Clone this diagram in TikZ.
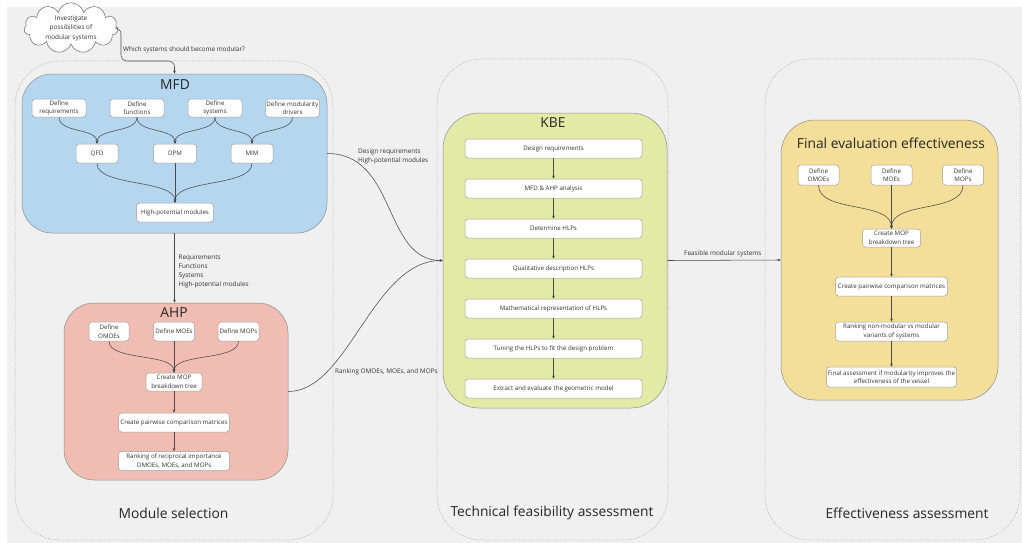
\documentclass[tikz,border=0pt]{standalone}
\usepackage{fontspec}
\setmainfont{Open Sans}
\usetikzlibrary{shapes.symbols,arrows.meta}

\definecolor{bg}{HTML}{F0F0F0}
\definecolor{mfdblue}{HTML}{B5D6EF}
\definecolor{ahppink}{HTML}{F1BDB2}
\definecolor{kbegreen}{HTML}{E2EBA6}
\definecolor{evalyellow}{HTML}{F3DF99}
\definecolor{edge}{HTML}{4A4A4A}
\definecolor{frame}{HTML}{9C9C9C}
\definecolor{groupline}{HTML}{8C8C8C}
\definecolor{ink}{HTML}{333333}

\tikzset{
  phase/.style={draw=frame, line width=0.5pt, dash pattern=on 0.6pt off 1.1pt,
    rounded corners=45pt, inner sep=0pt},
  group/.style={draw=groupline, line width=0.5pt, inner sep=0pt},
  task/.style={draw=gray!75, fill=white, rounded corners=3pt, line width=0.5pt,
    inner sep=1pt, align=center, font=\fontsize{6.2}{8.6}\selectfont, text=ink},
  flow/.style={draw=edge, line width=0.55pt, -{Stealth[length=3.2pt,width=2.8pt]}},
  lbl/.style={font=\fontsize{6.4}{9}\selectfont, text=ink, align=left, inner sep=0pt},
  heading/.style={font=\fontsize{13.8}{17}\selectfont, text=black!85, inner sep=0pt},
}

\begin{document}
\begin{tikzpicture}[x=1pt,y=-1pt]
\useasboundingbox (0,0) rectangle (1022,543);
\fill[bg] (7,7) rectangle (1022,543);

% three phases
\node[phase, minimum width=318pt, minimum height=479pt] (selection) at (174,300.5) {};
\node[phase, minimum width=231pt, minimum height=481pt] (feasibility) at (552.5,299.5) {};
\node[phase, minimum width=255pt, minimum height=481pt] (effectiveness) at (892.5,299.5) {};

\node[heading] (selT) at (173.5,513) {Module selection};
\node[heading] (feaT) at (552,513) {Technical feasibility assessment};
\node[heading] (effT) at (907,513) {Effectiveness assessment};

% method groups
\node[group, fill=mfdblue, rounded corners=30pt, minimum width=305pt, minimum height=159pt] (mfd) at (174.5,153.5) {};
\node[group, fill=ahppink, rounded corners=30pt, minimum width=224pt, minimum height=177pt] (ahp) at (176,391.5) {};
\node[group, fill=kbegreen, rounded corners=36pt, minimum width=224pt, minimum height=295pt] (kbe) at (555,260.5) {};
\node[group, fill=evalyellow, rounded corners=34pt, minimum width=217pt, minimum height=280pt] (final) at (889.5,260) {};

\node[heading] (mfdT) at (175,85) {MFD};
\node[heading] (ahpT) at (174,313) {AHP};
\node[heading] (kbeT) at (553,123) {KBE};
\node[heading] (finalT) at (891,143) {Final evaluation effectiveness};

% cloud
\node[cloud, draw=gray!80!black, fill=white, line width=0.5pt, cloud puffs=11, aspect=2.1,
  minimum width=94pt, minimum height=48pt, inner sep=0pt, align=center,
  font=\fontsize{6.4}{9.5}\selectfont, text=ink] (cloud) at (71,28)
  {Investigate\\possibilities of\\modular systems};
\coordinate (cturn) at (121,61);
\draw[flow, rounded corners=6pt] (cloud.east) -| (cturn) -| (mfd.north);
\node[lbl, anchor=west] (qlbl) at (123,50) {Which systems should become modular?};

% MFD
\node[task, minimum width=54pt, minimum height=18pt] (dreq) at (59,108) {Define\\requirements};
\node[task, minimum width=54pt, minimum height=18pt] (dfun) at (137,108) {Define\\functions};
\node[task, minimum width=54pt, minimum height=18pt] (dsys) at (215,108) {Define\\systems};
\node[task, minimum width=54pt, minimum height=18pt] (ddrv) at (292.5,108) {Define modularity\\drivers};
\node[task, minimum width=42pt, minimum height=19pt] (qfd) at (97,153.5) {QFD};
\node[task, minimum width=43pt, minimum height=19pt] (dpm) at (175,153.5) {DPM};
\node[task, minimum width=42pt, minimum height=19pt] (mim) at (252,153.5) {MIM};
\node[task, minimum width=77pt, minimum height=19pt] (hpm) at (175,212.5) {High-potential modules};

\draw[flow] (dreq.south) .. controls +(0,16) and +(0,-16) .. (qfd.north);
\draw[flow] (dfun.south) .. controls +(0,16) and +(0,-16) .. (qfd.north);
\draw[flow] (dfun.south) .. controls +(0,16) and +(0,-16) .. (dpm.north);
\draw[flow] (dsys.south) .. controls +(0,16) and +(0,-16) .. (dpm.north);
\draw[flow] (dsys.south) .. controls +(0,16) and +(0,-16) .. (mim.north);
\draw[flow] (ddrv.south) .. controls +(0,16) and +(0,-16) .. (mim.north);
\draw[flow] (qfd.south) .. controls +(0,24) and +(0,-24) .. (hpm.north);
\draw[flow] (dpm.south) -- (hpm.north);
\draw[flow] (mim.south) .. controls +(0,24) and +(0,-24) .. (hpm.north);

% MFD to AHP
\draw[flow] (mfd.south) -- (ahp.north -| mfd.south);
\node[lbl, anchor=north west] (mfdout) at (178.5,255)
  {Requirements\\Functions\\Systems\\High-potential modules};

% AHP
\node[task, minimum width=40pt, minimum height=19pt] (aomoe) at (109,331.5) {Define\\OMOEs};
\node[task, minimum width=41pt, minimum height=19pt] (amoe) at (174,331.5) {Define MOEs};
\node[task, minimum width=41pt, minimum height=19pt] (amop) at (238.5,331.5) {Define MOPs};
\node[task, minimum width=56pt, minimum height=18pt] (atree) at (174,382) {Create MOP\\breakdown tree};
\node[task, minimum width=111pt, minimum height=19pt] (apair) at (174,422.5) {Create pairwise comparison matrices};
\node[task, minimum width=111pt, minimum height=19pt] (arank) at (174,461) {Ranking of reciprocal importance\\OMOEs, MOEs, and MOPs};

\draw[flow] (aomoe.south) .. controls +(0,20) and +(0,-20) .. (atree.north);
\draw[flow] (amoe.south) -- (atree.north);
\draw[flow] (amop.south) .. controls +(0,20) and +(0,-20) .. (atree.north);
\draw[flow] (atree.south) -- (apair.north);
\draw[flow] (apair.south) -- (arank.north);

% into KBE
\draw[flow] (mfd.east) .. controls +(70,0) and +(-60,0) .. (kbe.west);
\draw[flow] (ahp.east) .. controls +(60,0) and +(-70,0) .. (kbe.west);
\node[lbl, anchor=north west] (kbein) at (358,149) {Design requirements\\High-potential modules};
\node[lbl, anchor=west] (rankin) at (335,372) {Ranking OMOEs, MOEs, and MOPs};

% KBE
\node[task, minimum width=177pt, minimum height=19pt] (k1) at (553.5,148.5) {Design requirements};
\node[task, minimum width=177pt, minimum height=19pt] (k2) at (553.5,188.5) {MFD \& AHP analysis};
\node[task, minimum width=177pt, minimum height=19pt] (k3) at (553.5,228.5) {Determine HLPs};
\node[task, minimum width=177pt, minimum height=19pt] (k4) at (553.5,268.5) {Qualitative description HLPs};
\node[task, minimum width=177pt, minimum height=19pt] (k5) at (553.5,308.5) {Mathematical representation of HLPs};
\node[task, minimum width=177pt, minimum height=19pt] (k6) at (553.5,348.5) {Tuning the HLPs to fit the design problem};
\node[task, minimum width=177pt, minimum height=19pt] (k7) at (553.5,388.5) {Extract and evaluate the geometric model};
\foreach \a/\b in {k1/k2,k2/k3,k3/k4,k4/k5,k5/k6,k6/k7}
  \draw[flow] (\a.south) -- (\b.north);

% KBE to final evaluation
\draw[flow] (kbe.east) -- (final.west);
\node[lbl, anchor=west] (feas) at (684,254) {Feasible modular systems};

% Final evaluation
\node[task, minimum width=41pt, minimum height=20pt] (fomoe) at (818.5,175) {Define\\OMOEs};
\node[task, minimum width=41pt, minimum height=20pt] (fmoe) at (891.5,175) {Define\\MOEs};
\node[task, minimum width=41pt, minimum height=20pt] (fmop) at (963,175) {Define\\MOPs};
\node[task, minimum width=58pt, minimum height=18pt] (ftree) at (891.5,238) {Create MOP\\breakdown tree};
\node[task, minimum width=112pt, minimum height=19pt] (fpair) at (891.5,286.5) {Create pairwise comparison matrices};
\node[task, minimum width=112pt, minimum height=19pt] (frank) at (891.5,331.5) {Ranking non-modular vs modular\\variants of systems};
\node[task, minimum width=130pt, minimum height=20pt] (fass) at (891.5,377) {Final assessment if modularity improves the\\effectiveness of the vessel};

\draw[flow] (fomoe.south) .. controls +(0,28) and +(0,-28) .. (ftree.north);
\draw[flow] (fmoe.south) -- (ftree.north);
\draw[flow] (fmop.south) .. controls +(0,28) and +(0,-28) .. (ftree.north);
\draw[flow] (ftree.south) -- (fpair.north);
\draw[flow] (fpair.south) -- (frank.north);
\draw[flow] (frank.south) -- (fass.north);
\end{tikzpicture}
\end{document}
